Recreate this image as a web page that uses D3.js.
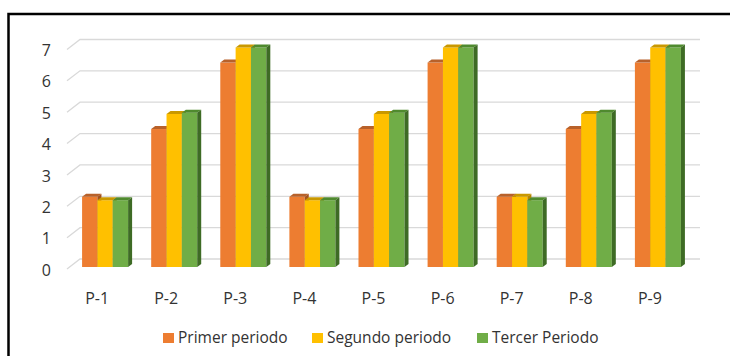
<!DOCTYPE html>
<html>
<head>
<meta charset="utf-8">
<script src="https://cdn.jsdelivr.net/npm/d3@7"></script>
<style>
body{margin:0;background:#fff;}
text{font-family:"Open Sans",sans-serif;fill:#333;}
</style>
</head>
<body>
<div id="chart"></div>
<script>
var categories = ["P-1","P-2","P-3","P-4","P-5","P-6","P-7","P-8","P-9"];
var seriesNames = ["Primer periodo","Segundo periodo","Tercer Periodo"];
var primer = [2.24,4.4,6.52,2.24,4.4,6.52,2.24,4.4,6.52];
var segundo = [2.13,4.88,7.0,2.13,4.88,7.0,2.24,4.88,7.0];
var tercer = [2.13,4.92,7.0,2.13,4.92,7.0,2.13,4.92,7.0];
var yTicks = [0,1,2,3,4,5,6,7];

var colors = ["#ED7D31","#FFC000","#70AD47"];
var topColors = ["#B8612A","#C99800","#4F8A2E"];
var sideColors = ["#A4521C","#B48600","#3E6B25"];

var w = 730, h = 356;
var dx = 4, dy = -3;

var svg = d3.select("#chart")
  .append("svg")
  .attr("width", w)
  .attr("height", h);

// frame
svg.append("rect")
  .attr("x", 8.5)
  .attr("y", 14)
  .attr("width", 800)
  .attr("height", 400)
  .style("fill", "none")
  .style("stroke", "#000")
  .style("stroke-width", 2.5);

var x = d3.scaleBand()
  .domain(categories)
  .range([59, 704])
  .padding(0.334);

var xSub = d3.scaleBand()
  .domain(seriesNames)
  .range([0, x.bandwidth()]);

var y = d3.scaleLinear()
  .domain([0,7])
  .range([267, 47.5]);

// back wall gridlines
svg.selectAll(".grid")
  .data(yTicks)
  .enter()
  .append("path")
  .attr("class","grid")
  .attr("d", function(d){
    var yf = y(d)+2, yb = y(d)-8;
    return "M67," + yf + "L80," + yb + "L700," + yb;
  })
  .style("fill","none")
  .style("stroke","#d9d9d9")
  .style("stroke-width",1.3);

// y labels
svg.selectAll(".ylabel")
  .data(yTicks)
  .enter()
  .append("text")
  .attr("class","ylabel")
  .attr("x", 51)
  .attr("y", function(d){return y(d)+3;})
  .attr("dy", ".35em")
  .attr("text-anchor","end")
  .style("font-size","16px")
  .text(String);

// bars
var allSeries = [primer, segundo, tercer];
var bars = [];
categories.forEach(function(c, i){
  allSeries.forEach(function(s, k){
    bars.push({cat:c, k:k, v:s[i]});
  });
});

var g = svg.selectAll(".bar")
  .data(bars)
  .enter()
  .append("g")
  .attr("class","bar");

g.each(function(d){
  var bx = x(d.cat) + xSub(seriesNames[d.k]);
  var bw = xSub.bandwidth();
  var top = y(d.v), bottom = y(0);
  var sel = d3.select(this);
  sel.append("rect")
    .attr("x", bx)
    .attr("y", top)
    .attr("width", bw)
    .attr("height", bottom-top)
    .style("fill", colors[d.k]);
  sel.append("polygon")
    .attr("points", [[bx,top],[bx+dx,top+dy],[bx+bw+dx,top+dy],[bx+bw,top]].join(" "))
    .style("fill", topColors[d.k]);
  sel.append("polygon")
    .attr("points", [[bx+bw,top],[bx+bw+dx,top+dy],[bx+bw+dx,bottom+dy],[bx+bw,bottom]].join(" "))
    .style("fill", sideColors[d.k]);
});

// category labels
svg.selectAll(".xlabel")
  .data(categories)
  .enter()
  .append("text")
  .attr("class","xlabel")
  .attr("x", function(d){return x(d)+x.bandwidth()/2-8;})
  .attr("y", 298)
  .attr("dy", ".35em")
  .attr("text-anchor","middle")
  .style("font-size","16px")
  .text(String);

// legend
var legendX = [163, 312, 477];
var legend = svg.selectAll(".legend")
  .data(seriesNames)
  .enter()
  .append("g")
  .attr("class","legend");

legend.append("rect")
  .attr("x", function(d,i){return legendX[i];})
  .attr("y", 333)
  .attr("width", 11)
  .attr("height", 10)
  .style("fill", function(d,i){return colors[i];});

legend.append("text")
  .attr("x", function(d,i){return legendX[i]+15;})
  .attr("y", 337.5)
  .attr("dy", ".35em")
  .style("font-size","15.5px")
  .text(String);
</script>
</body>
</html>
